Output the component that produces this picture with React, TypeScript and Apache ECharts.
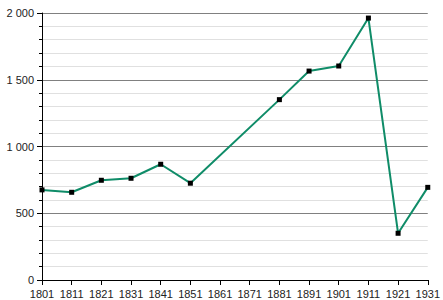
import React, { useEffect, useRef } from "react";
import * as echarts from "echarts";

const years = ["1801", "1811", "1821", "1831", "1841", "1851", "1861", "1871", "1881", "1891", "1901", "1911", "1921", "1931"];
const population: (number | null)[] = [675, 657, 747, 762, 867, 725, null, null, 1351, 1565, 1603, 1962, 350, 694];
const yTicks = { min: 0, max: 2000, interval: 500 };

function fmt(v: number): string {
  const s = String(Math.round(v));
  return s.replace(/\B(?=(\d{3})+(?!\d))/g, " ");
}

export default function App() {
  const ref = useRef<HTMLDivElement>(null);
  useEffect(() => {
    if (!ref.current) return;
    const chart = echarts.init(ref.current, undefined, { renderer: "svg" });
    chart.setOption({
      animation: false,
      grid: { left: 42, right: 11, top: 13, bottom: 20, containLabel: false },
      xAxis: {
        type: "category",
        data: years,
        boundaryGap: false,
        axisLine: { lineStyle: { color: "#000", width: 1 } },
        axisTick: { show: true, length: 5, lineStyle: { color: "#000" }, alignWithLabel: true },
        axisLabel: { color: "#222", fontSize: 11, fontFamily: "Liberation Sans, Arial, sans-serif", margin: 8, interval: 0 },
        splitLine: { show: false },
      },
      yAxis: {
        type: "value",
        min: yTicks.min,
        max: yTicks.max,
        interval: yTicks.interval,
        axisLine: { show: true, lineStyle: { color: "#000", width: 1 } },
        axisTick: { show: true, length: 5, lineStyle: { color: "#000" } },
        minorTick: { show: true, splitNumber: 5, length: 3, lineStyle: { color: "#000" } },
        minorSplitLine: { show: true, lineStyle: { color: "#e0e0e0", width: 1 } },
        splitLine: { show: true, lineStyle: { color: "#808080", width: 1 } },
        axisLabel: {
          color: "#222",
          fontSize: 11,
          fontFamily: "Liberation Sans, Arial, sans-serif",
          margin: 8,
          formatter: (v: number) => fmt(v),
        },
      },
      series: [
        {
          type: "line",
          data: population,
          connectNulls: true,
          symbol: "rect",
          symbolSize: 5,
          showSymbol: true,
          itemStyle: { color: "#000" },
          lineStyle: { color: "#0f8c68", width: 2 },
          z: 3,
        },
      ],
    });
    return () => chart.dispose();
  }, []);
  return <div ref={ref} style={{ width: 443, height: 300, position: "absolute", left: 0, top: 0 }} />;
}
